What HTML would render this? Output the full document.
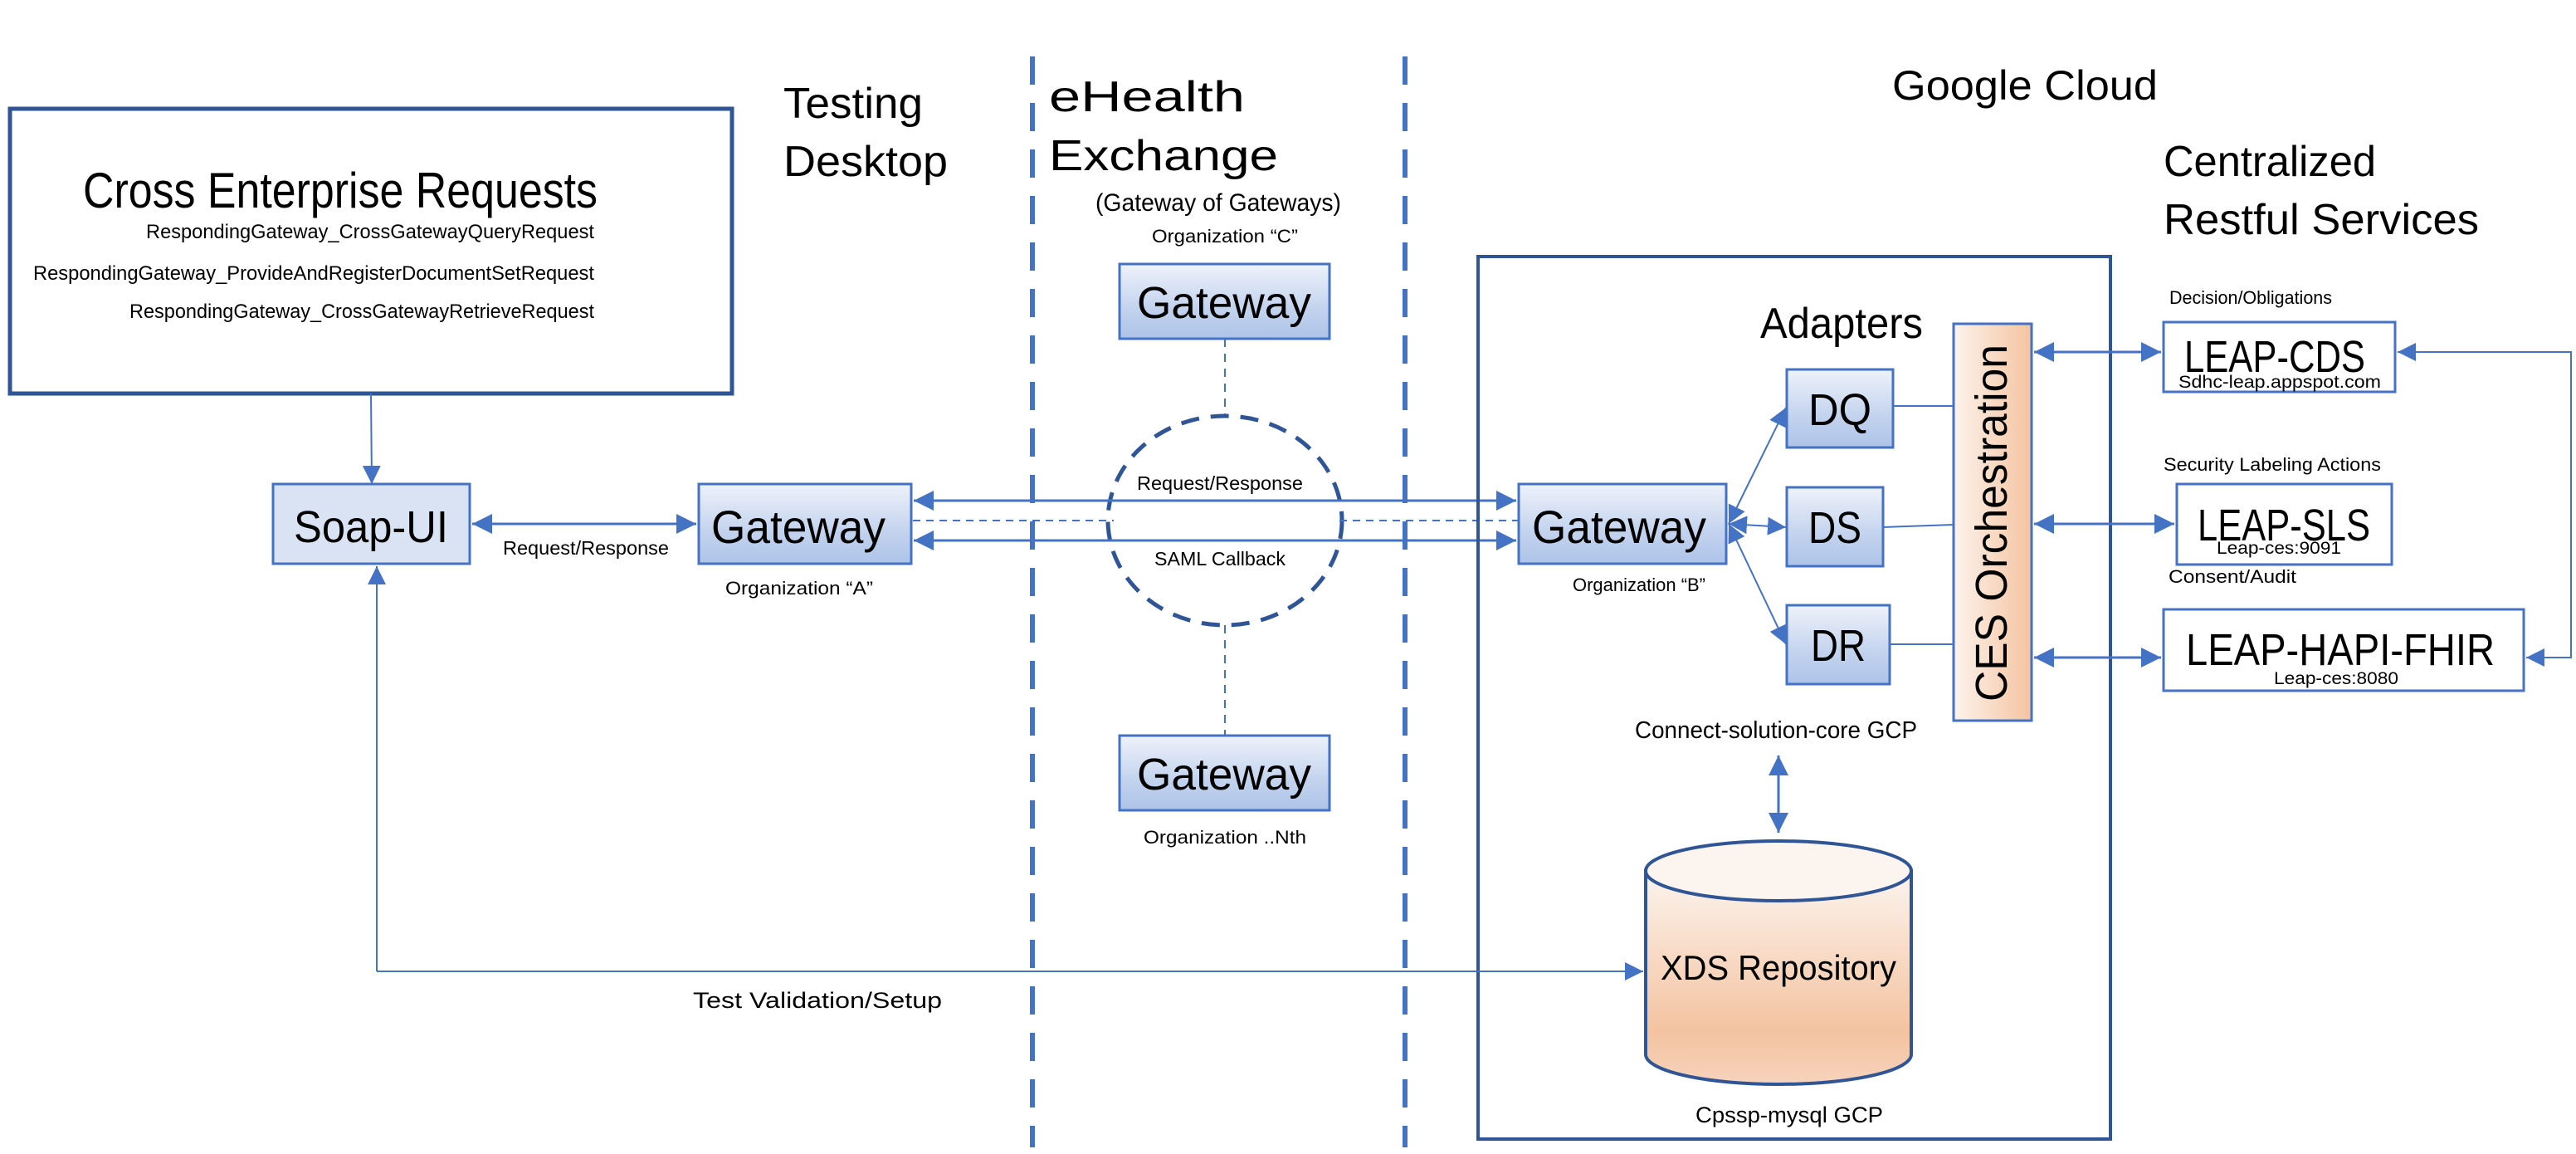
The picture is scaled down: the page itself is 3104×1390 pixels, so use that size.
<!DOCTYPE html>
<html><head><meta charset="utf-8"><style>
html,body{margin:0;padding:0;background:#fff;}
svg{display:block;}
text{font-family:"Liberation Sans",sans-serif;fill:#000;}
</style></head><body>
<svg width="3104" height="1390" viewBox="0 0 3104 1390" xmlns="http://www.w3.org/2000/svg">
<defs>
<linearGradient id="gb" x1="0" y1="0" x2="0" y2="1">
<stop offset="0" stop-color="#eef2fa"/><stop offset="0.6" stop-color="#c3d3ee"/><stop offset="1" stop-color="#adc3e8"/>
</linearGradient>
<linearGradient id="orh" x1="0" y1="0" x2="1" y2="0">
<stop offset="0" stop-color="#fdf3ec"/><stop offset="1" stop-color="#f4c3a0"/>
</linearGradient>
<linearGradient id="orv" x1="0" y1="0" x2="0" y2="1">
<stop offset="0" stop-color="#fcf4ef"/><stop offset="0.75" stop-color="#f4c3a0"/><stop offset="1" stop-color="#f6d3bc"/>
</linearGradient>
<marker id="ah" viewBox="0 0 10 10" refX="10" refY="5" markerWidth="8" markerHeight="8" orient="auto-start-reverse" markerUnits="strokeWidth">
<path d="M0,0 L10,5 L0,10 z" fill="#4472c4"/></marker>
<marker id="ahs" viewBox="0 0 10 10" refX="10" refY="5" markerWidth="11" markerHeight="11" orient="auto-start-reverse" markerUnits="strokeWidth">
<path d="M0,0 L10,5 L0,10 z" fill="#4472c4"/></marker>
</defs>

<!-- Cross Enterprise box -->
<rect x="12" y="131" width="870" height="343" fill="#fff" stroke="#2f5597" stroke-width="5"/>
<text x="410" y="250" font-size="60" text-anchor="middle" textLength="620" lengthAdjust="spacingAndGlyphs">Cross Enterprise Requests</text>
<text x="716" y="287" font-size="24" text-anchor="end" textLength="540" lengthAdjust="spacingAndGlyphs">RespondingGateway_CrossGatewayQueryRequest</text>
<text x="716" y="337" font-size="24" text-anchor="end" textLength="676" lengthAdjust="spacingAndGlyphs">RespondingGateway_ProvideAndRegisterDocumentSetRequest</text>
<text x="716" y="383" font-size="24" text-anchor="end" textLength="560" lengthAdjust="spacingAndGlyphs">RespondingGateway_CrossGatewayRetrieveRequest</text>

<text x="944" y="142" font-size="52" textLength="168" lengthAdjust="spacingAndGlyphs">Testing</text>
<text x="944" y="212" font-size="52" textLength="198" lengthAdjust="spacingAndGlyphs">Desktop</text>

<!-- vertical dashed separators -->
<line x1="1244" y1="68" x2="1244" y2="1382" stroke="#4472c4" stroke-width="6" stroke-dasharray="34,22"/>
<line x1="1693" y1="68" x2="1693" y2="1382" stroke="#4472c4" stroke-width="6" stroke-dasharray="34,22"/>

<text x="1264" y="134" font-size="52" textLength="236" lengthAdjust="spacingAndGlyphs">eHealth</text>
<text x="1264" y="205" font-size="52" textLength="276" lengthAdjust="spacingAndGlyphs">Exchange</text>
<text x="1468" y="254" font-size="30" text-anchor="middle" textLength="296" lengthAdjust="spacingAndGlyphs">(Gateway of Gateways)</text>
<text x="1476" y="292" font-size="22" text-anchor="middle" textLength="176" lengthAdjust="spacingAndGlyphs">Organization “C”</text>

<rect x="1349" y="318" width="253" height="90" fill="url(#gb)" stroke="#4472c4" stroke-width="3"/>
<text x="1475" y="383" font-size="54" text-anchor="middle" textLength="210" lengthAdjust="spacingAndGlyphs">Gateway</text>
<line x1="1476" y1="408" x2="1476" y2="500" stroke="#4472c4" stroke-width="2" stroke-dasharray="10,8"/>
<ellipse cx="1476" cy="627" rx="141" ry="126" fill="none" stroke="#2f5597" stroke-width="5" stroke-dasharray="22,14"/>
<line x1="1476" y1="753" x2="1476" y2="886" stroke="#4472c4" stroke-width="2" stroke-dasharray="10,8"/>
<rect x="1349" y="886" width="253" height="90" fill="url(#gb)" stroke="#4472c4" stroke-width="3"/>
<text x="1475" y="951" font-size="54" text-anchor="middle" textLength="210" lengthAdjust="spacingAndGlyphs">Gateway</text>
<text x="1476" y="1016" font-size="22" text-anchor="middle" textLength="196" lengthAdjust="spacingAndGlyphs">Organization ..Nth</text>

<!-- Soap-UI -->
<line x1="447" y1="474" x2="448" y2="583" stroke="#4472c4" stroke-width="2" marker-end="url(#ahs)"/>
<rect x="329" y="583" width="237" height="96" fill="#dae3f3" stroke="#4472c4" stroke-width="3"/>
<text x="447" y="653" font-size="54" text-anchor="middle" textLength="186" lengthAdjust="spacingAndGlyphs">Soap-UI</text>
<line x1="569" y1="631" x2="839" y2="631" stroke="#4472c4" stroke-width="3" marker-start="url(#ah)" marker-end="url(#ah)"/>
<text x="706" y="668" font-size="23" text-anchor="middle" textLength="200" lengthAdjust="spacingAndGlyphs">Request/Response</text>

<!-- Gateway A -->
<rect x="842" y="583" width="256" height="96" fill="url(#gb)" stroke="#4472c4" stroke-width="3"/>
<text x="962" y="654" font-size="56" text-anchor="middle" textLength="210" lengthAdjust="spacingAndGlyphs">Gateway</text>
<text x="963" y="716" font-size="22" text-anchor="middle" textLength="178" lengthAdjust="spacingAndGlyphs">Organization “A”</text>

<!-- inter-gateway lines -->
<line x1="1101" y1="603" x2="1827" y2="603" stroke="#4472c4" stroke-width="3" marker-start="url(#ah)" marker-end="url(#ah)"/>
<line x1="1101" y1="651" x2="1827" y2="651" stroke="#4472c4" stroke-width="3" marker-start="url(#ah)" marker-end="url(#ah)"/>
<line x1="1100" y1="627" x2="1342" y2="627" stroke="#4472c4" stroke-width="2" stroke-dasharray="9,7"/>
<line x1="1614" y1="627" x2="1830" y2="627" stroke="#4472c4" stroke-width="2" stroke-dasharray="9,7"/>
<text x="1470" y="590" font-size="23" text-anchor="middle" textLength="200" lengthAdjust="spacingAndGlyphs">Request/Response</text>
<text x="1470" y="681" font-size="23" text-anchor="middle" textLength="158" lengthAdjust="spacingAndGlyphs">SAML Callback</text>

<!-- Google cloud -->
<text x="2440" y="120" font-size="50" text-anchor="middle" textLength="320" lengthAdjust="spacingAndGlyphs">Google Cloud</text>
<rect x="1781" y="309" width="762" height="1063" fill="none" stroke="#2f5597" stroke-width="4"/>

<rect x="1830" y="583" width="250" height="96" fill="url(#gb)" stroke="#4472c4" stroke-width="3"/>
<text x="1951" y="654" font-size="56" text-anchor="middle" textLength="210" lengthAdjust="spacingAndGlyphs">Gateway</text>
<text x="1975" y="712" font-size="22" text-anchor="middle" textLength="160" lengthAdjust="spacingAndGlyphs">Organization “B”</text>

<text x="2219" y="407" font-size="52" text-anchor="middle" textLength="196" lengthAdjust="spacingAndGlyphs">Adapters</text>

<rect x="2153" y="445" width="128" height="94" fill="url(#gb)" stroke="#4472c4" stroke-width="3"/>
<text x="2217" y="512" font-size="54" text-anchor="middle" textLength="76" lengthAdjust="spacingAndGlyphs">DQ</text>
<rect x="2153" y="587" width="116" height="95" fill="url(#gb)" stroke="#4472c4" stroke-width="3"/>
<text x="2211" y="654" font-size="54" text-anchor="middle" textLength="64" lengthAdjust="spacingAndGlyphs">DS</text>
<rect x="2153" y="729" width="124" height="95" fill="url(#gb)" stroke="#4472c4" stroke-width="3"/>
<text x="2215" y="796" font-size="54" text-anchor="middle" textLength="66" lengthAdjust="spacingAndGlyphs">DR</text>

<line x1="2083" y1="631" x2="2152" y2="491" stroke="#4472c4" stroke-width="2" marker-start="url(#ahs)" marker-end="url(#ahs)"/>
<line x1="2083" y1="631" x2="2152" y2="635" stroke="#4472c4" stroke-width="2" marker-start="url(#ahs)" marker-end="url(#ahs)"/>
<line x1="2083" y1="631" x2="2152" y2="776" stroke="#4472c4" stroke-width="2" marker-start="url(#ahs)" marker-end="url(#ahs)"/>
<line x1="2281" y1="489" x2="2354" y2="489" stroke="#4472c4" stroke-width="2"/>
<line x1="2269" y1="635" x2="2354" y2="632" stroke="#4472c4" stroke-width="2"/>
<line x1="2277" y1="776" x2="2354" y2="776" stroke="#4472c4" stroke-width="2"/>

<rect x="2354" y="390" width="94" height="478" fill="url(#orh)" stroke="#4472c4" stroke-width="3"/>
<text transform="translate(2418,630) rotate(-90)" font-size="54" text-anchor="middle" textLength="430" lengthAdjust="spacingAndGlyphs">CES Orchestration</text>

<text x="2140" y="889" font-size="29" text-anchor="middle" textLength="340" lengthAdjust="spacingAndGlyphs">Connect-solution-core GCP</text>
<line x1="2143" y1="910" x2="2143" y2="1003" stroke="#4472c4" stroke-width="3" marker-start="url(#ah)" marker-end="url(#ah)"/>

<!-- cylinder -->
<path d="M1983,1049 L1983,1270 A160,36 0 0 0 2303,1270 L2303,1049 Z" fill="url(#orv)" stroke="#2f5597" stroke-width="4"/>
<ellipse cx="2143" cy="1049" rx="160" ry="36" fill="#fcf4ef" stroke="#2f5597" stroke-width="4"/>
<text x="2143" y="1180" font-size="42" text-anchor="middle" textLength="284" lengthAdjust="spacingAndGlyphs">XDS Repository</text>
<text x="2156" y="1352" font-size="27" text-anchor="middle" textLength="226" lengthAdjust="spacingAndGlyphs">Cpssp-mysql GCP</text>

<!-- Test validation line -->
<line x1="454" y1="1170" x2="1980" y2="1170" stroke="#4472c4" stroke-width="2" marker-end="url(#ahs)"/>
<line x1="454" y1="1170" x2="454" y2="682" stroke="#4472c4" stroke-width="2" marker-end="url(#ahs)"/>
<text x="985" y="1214" font-size="27" text-anchor="middle" textLength="300" lengthAdjust="spacingAndGlyphs">Test Validation/Setup</text>

<!-- Centralized services -->
<text x="2607" y="212" font-size="52" textLength="256" lengthAdjust="spacingAndGlyphs">Centralized</text>
<text x="2607" y="282" font-size="52" textLength="380" lengthAdjust="spacingAndGlyphs">Restful Services</text>

<text x="2614" y="366" font-size="22" textLength="196" lengthAdjust="spacingAndGlyphs">Decision/Obligations</text>
<rect x="2607" y="388" width="279" height="84" fill="#fff" stroke="#4472c4" stroke-width="3"/>
<text x="2741" y="448" font-size="54" text-anchor="middle" textLength="218" lengthAdjust="spacingAndGlyphs">LEAP-CDS</text>
<text x="2747" y="467" font-size="21" text-anchor="middle" textLength="244" lengthAdjust="spacingAndGlyphs">Sdhc-leap.appspot.com</text>

<text x="2607" y="567" font-size="22" textLength="262" lengthAdjust="spacingAndGlyphs">Security Labeling Actions</text>
<rect x="2623" y="583" width="259" height="97" fill="#fff" stroke="#4472c4" stroke-width="3"/>
<text x="2752" y="651" font-size="54" text-anchor="middle" textLength="208" lengthAdjust="spacingAndGlyphs">LEAP-SLS</text>
<text x="2746" y="667" font-size="21" text-anchor="middle" textLength="150" lengthAdjust="spacingAndGlyphs">Leap-ces:9091</text>

<text x="2613" y="702" font-size="22" textLength="154" lengthAdjust="spacingAndGlyphs">Consent/Audit</text>
<rect x="2607" y="734" width="434" height="98" fill="#fff" stroke="#4472c4" stroke-width="3"/>
<text x="2820" y="801" font-size="54" text-anchor="middle" textLength="372" lengthAdjust="spacingAndGlyphs">LEAP-HAPI-FHIR</text>
<text x="2815" y="824" font-size="21" text-anchor="middle" textLength="150" lengthAdjust="spacingAndGlyphs">Leap-ces:8080</text>

<line x1="2451" y1="424" x2="2604" y2="424" stroke="#4472c4" stroke-width="3" marker-start="url(#ah)" marker-end="url(#ah)"/>
<line x1="2451" y1="631" x2="2620" y2="631" stroke="#4472c4" stroke-width="3" marker-start="url(#ah)" marker-end="url(#ah)"/>
<line x1="2451" y1="792" x2="2604" y2="792" stroke="#4472c4" stroke-width="3" marker-start="url(#ah)" marker-end="url(#ah)"/>
<polyline points="2889,424 3098,424 3098,792 3044,792" fill="none" stroke="#4472c4" stroke-width="2" marker-start="url(#ahs)" marker-end="url(#ahs)"/>
</svg>
</body></html>
